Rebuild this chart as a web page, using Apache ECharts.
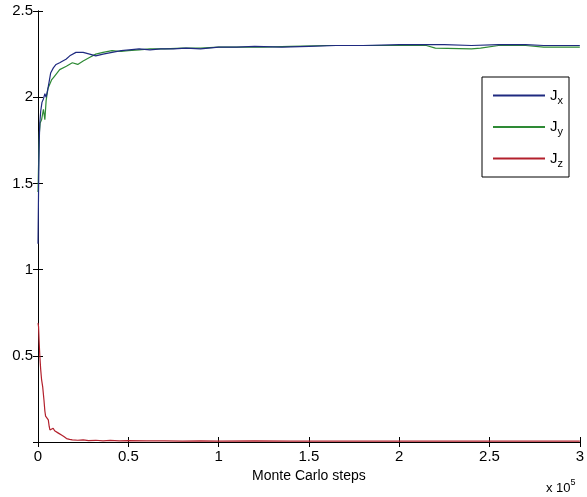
<!DOCTYPE html>
<html>
<head>
<meta charset="utf-8">
<script src="https://cdn.jsdelivr.net/npm/echarts@6/dist/echarts.min.js"></script>
<style>
html,body{margin:0;padding:0;background:#fff;}
#chart{width:587px;height:497px;}
</style>
</head>
<body>
<div id="chart"></div>
<script>
// Monte Carlo steps vs J values
const seriesNames = ['Jx', 'Jy', 'Jz'];
const xTicks = [0, 50000, 100000, 150000, 200000, 250000, 300000];
const yTicks = [0, 0.5, 1, 1.5, 2, 2.5];

const jx = [[0,1.15],[300,1.45],[500,1.62],[700,1.75],[1000,1.85],[1500,1.92],[2200,1.97],[3000,1.99],[3800,2.02],[4500,2.0],[5500,2.05],[7000,2.14],[8500,2.17],[10000,2.19],[12000,2.20],[13700,2.21],[15500,2.22],[17600,2.24],[21000,2.26],[25000,2.26],[28600,2.25],[32000,2.24],[36000,2.25],[41000,2.26],[46000,2.27],[50500,2.275],[56000,2.28],[62000,2.275],[68000,2.28],[75000,2.28],[82000,2.285],[90000,2.28],[100000,2.29],[110000,2.29],[120000,2.295],[135000,2.29],[150000,2.295],[165000,2.30],[180000,2.30],[200000,2.305],[215000,2.305],[225000,2.305],[240000,2.30],[255000,2.305],[270000,2.305],[280000,2.30],[290000,2.30],[300000,2.30]];

const jy = [[0,1.45],[300,1.6],[500,1.7],[800,1.8],[1200,1.85],[2000,1.87],[3000,1.93],[3800,1.87],[4500,1.98],[5500,2.05],[7500,2.10],[9000,2.12],[12000,2.16],[15700,2.18],[19000,2.20],[22000,2.19],[25000,2.21],[28500,2.23],[32000,2.25],[36000,2.26],[41000,2.27],[46000,2.265],[50000,2.27],[56000,2.275],[62000,2.28],[70000,2.28],[80000,2.285],[90000,2.285],[100000,2.29],[110000,2.29],[125000,2.29],[140000,2.295],[160000,2.30],[180000,2.30],[200000,2.30],[215000,2.30],[220000,2.285],[240000,2.28],[245000,2.285],[255000,2.30],[270000,2.30],[280000,2.29],[290000,2.29],[300000,2.29]];

const jz = [[0,0.69],[300,0.67],[600,0.59],[1000,0.50],[1500,0.42],[2000,0.36],[2600,0.32],[3300,0.244],[3800,0.18],[4200,0.15],[5000,0.14],[5700,0.128],[6200,0.09],[6600,0.07],[7500,0.075],[8400,0.08],[9200,0.065],[10000,0.07],[11500,0.05],[13000,0.04],[14500,0.03],[15800,0.02],[17500,0.015],[19000,0.012],[22000,0.01],[25000,0.012],[28000,0.008],[32000,0.01],[36000,0.007],[40000,0.009],[45000,0.006],[50000,0.008],[60000,0.006],[70000,0.007],[80000,0.005],[90000,0.006],[100000,0.005],[120000,0.006],[140000,0.005],[160000,0.005],[200000,0.005],[250000,0.005],[300000,0.005]];

const seriesData = [jx, jy, jz];
const colors = ['#1f2a80', '#2e8a35', '#b3202c'];

const chart = echarts.init(document.getElementById('chart'), null, {renderer: 'canvas'});
const FONT = '"Liberation Sans", Arial, sans-serif';
const axisLineStyle = {color: '#000', width: 1};

const option = {
  backgroundColor: '#fff',
  animation: false,
  grid: {left: 38, right: 3, top: 11, bottom: 55, containLabel: false},
  legend: {
    orient: 'vertical',
    left: 482,
    top: 77,
    width: 88,
    padding: [11, 6, 8, 10],
    itemWidth: 52,
    itemHeight: 14,
    itemGap: 13.5,
    borderColor: '#000',
    borderWidth: 1,
    backgroundColor: '#fff',
    itemStyle: {opacity: 0},
    data: seriesNames,
    formatter: function (name) { return '{j|J}{s|' + name.slice(1) + '}'; },
    textStyle: {
      fontFamily: FONT, color: '#000',
      rich: {
        j: {fontSize: 15, fontFamily: FONT, color: '#000'},
        s: {fontSize: 11, fontFamily: FONT, color: '#000', padding: [10, 0, 0, 0]}
      }
    }
  },
  xAxis: [{
    type: 'value', min: xTicks[0], max: xTicks[xTicks.length - 1], interval: xTicks[1] - xTicks[0],
    position: 'bottom',
    name: 'Monte Carlo steps', nameLocation: 'middle', nameGap: 27,
    nameTextStyle: {fontFamily: FONT, fontSize: 14, color: '#000'},
    axisLine: {show: true, lineStyle: axisLineStyle},
    axisTick: {show: true, inside: true, length: 5, lineStyle: axisLineStyle},
    axisLabel: {show: true, margin: 7, fontFamily: FONT, fontSize: 15, color: '#000',
      formatter: function (v) { return String(v / 100000); }},
    splitLine: {show: false}
  }, {
    type: 'value', min: xTicks[0], max: xTicks[xTicks.length - 1], interval: xTicks[1] - xTicks[0],
    position: 'top',
    axisLine: {show: true, lineStyle: axisLineStyle},
    axisTick: {show: true, inside: true, length: 5, lineStyle: axisLineStyle},
    axisLabel: {show: false},
    splitLine: {show: false}
  }],
  yAxis: [{
    type: 'value', min: yTicks[0], max: yTicks[yTicks.length - 1], interval: yTicks[1] - yTicks[0],
    position: 'left',
    axisLine: {show: true, lineStyle: axisLineStyle},
    axisTick: {show: true, inside: true, length: 5, lineStyle: axisLineStyle},
    axisLabel: {show: true, margin: 5, fontFamily: FONT, fontSize: 15, color: '#000',
      formatter: function (v) { return v === 0 ? '' : String(v); }},
    splitLine: {show: false}
  }, {
    type: 'value', min: yTicks[0], max: yTicks[yTicks.length - 1], interval: yTicks[1] - yTicks[0],
    position: 'right',
    axisLine: {show: true, lineStyle: axisLineStyle},
    axisTick: {show: true, inside: true, length: 5, lineStyle: axisLineStyle},
    axisLabel: {show: false},
    splitLine: {show: false}
  }],
  graphic: [{
    type: 'text', left: 546, top: 478,
    style: {
      text: '{b|x 10}{e|5}',
      rich: {
        b: {fontFamily: FONT, fontSize: 13, color: '#000', padding: [6, 0, 0, 0]},
        e: {fontFamily: FONT, fontSize: 9, color: '#000', padding: [0, 0, 6, 0]}
      }
    }
  }],
  series: seriesNames.map(function (n, i) {
    return {
      name: n, type: 'line', xAxisIndex: 0, yAxisIndex: 0,
      data: seriesData[i], symbol: 'none', showSymbol: false,
      lineStyle: {color: colors[i], width: 1.2},
      itemStyle: {color: colors[i]},
      z: 3 - i
    };
  })
};
chart.setOption(option);
</script>
</body>
</html>
